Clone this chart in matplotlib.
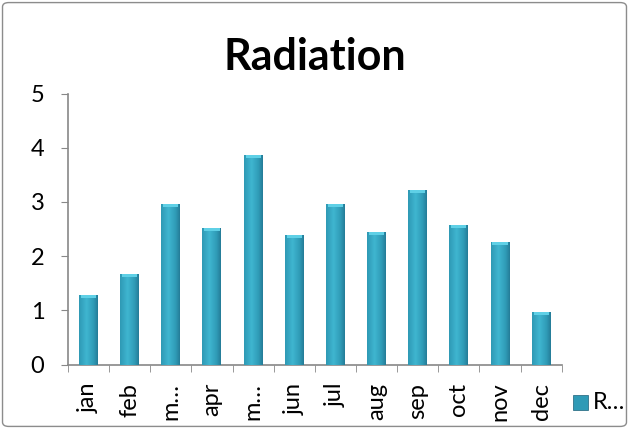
import matplotlib
matplotlib.use("Agg")
import matplotlib.pyplot as plt
import numpy as np
from matplotlib.patches import FancyBboxPatch, Rectangle

months = ["jan", "feb", "m…", "apr", "m…", "jun", "jul", "aug", "sep", "oct", "nov", "dec"]
radiation = [1.28, 1.67, 2.96, 2.52, 3.87, 2.39, 2.96, 2.44, 3.22, 2.57, 2.26, 0.97]
yticks = [0, 1, 2, 3, 4, 5]

plt.rcParams["font.family"] = ["Lato", "DejaVu Sans"]

fig = plt.figure(figsize=(6.29, 4.29), dpi=100)
ax = fig.add_axes([0.108, 0.150, 0.785, 0.632])

x = np.arange(len(months))
bars = ax.bar(x, radiation, width=0.46, color="#2f9ab6", zorder=2)

# cylinder-like shading on each bar
grad = np.linspace(0, 1, 64)
shade = 1 - np.abs(grad - 0.4) * 1.3
cmap = matplotlib.colors.LinearSegmentedColormap.from_list(
    "cyl", ["#1d6580", "#2f9ab6", "#3fb6d0"])
for b in bars:
    x0, w, h = b.get_x(), b.get_width(), b.get_height()
    im = ax.imshow(shade.reshape(1, -1), cmap=cmap, aspect="auto",
                   extent=(x0, x0 + w, 0, h), zorder=3, vmin=0, vmax=1)
    im.set_clip_path(b)
    ax.add_patch(Rectangle((x0 + w * 0.1, h - 0.05), w * 0.8, 0.05,
                           color="#5fd0e6", zorder=4, lw=0))

ax.set_xlim(-0.5, len(months) - 0.5)
ax.set_ylim(0, 5)
ax.set_yticks(yticks)
ax.set_yticklabels([str(t) for t in yticks], fontsize=17)
ax.set_xticks(x)
ax.set_xticklabels(months, rotation=90, fontsize=17)
ax.tick_params(axis="x", length=0, pad=13)
ax.set_xticks(np.arange(-0.5, len(months), 1), minor=True)
ax.tick_params(axis="x", which="minor", length=5, color="#888888")
ax.tick_params(axis="y", length=5, color="#888888", pad=12)
for s in ["top", "right"]:
    ax.spines[s].set_visible(False)
for s in ["left", "bottom"]:
    ax.spines[s].set_color("#888888")
    ax.spines[s].set_linewidth(1.2)

fig.text(0.50, 0.868, "Radiation", ha="center", va="center",
         fontsize=31, fontweight="bold")

# legend
fig.patches.append(Rectangle((0.911, 0.044), 0.024, 0.035, transform=fig.transFigure,
                             facecolor="#2f9ab6", edgecolor="#1b5f78", lw=0.5))
fig.text(0.942, 0.061, "R…", ha="left", va="center", fontsize=17)

fig.patches.append(FancyBboxPatch((0.004, 0.006), 0.992, 0.988, transform=fig.transFigure,
                                  boxstyle="round,pad=0,rounding_size=0.01",
                                  facecolor="none", edgecolor="#8c8c8c", lw=1))

fig.savefig("out.png", dpi=100)
